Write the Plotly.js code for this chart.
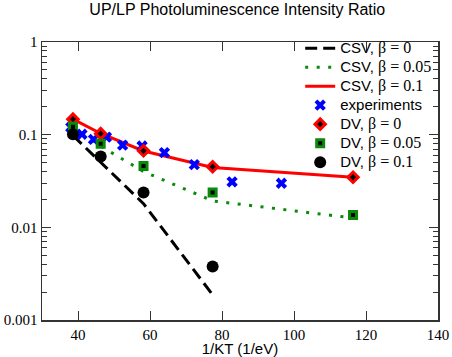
<!DOCTYPE html>
<html>
<head>
<meta charset="utf-8">
<script src="https://cdn.plot.ly/plotly-3.0.1.min.js"></script>
<style>
  html, body { margin: 0; padding: 0; background: #fff; }
  #chart { width: 452px; height: 357px; }
</style>
</head>
<body>
<div id="chart"></div>
<script>
// values (x = 1/KT in 1/eV, y = UP/LP ratio)
const dvX = [38.6, 46.3, 58.2, 77.4, 116.4];
const csvB0Y = [0.098, 0.05, 0.018, 0.00187];
const csvB005Y = [0.122, 0.075, 0.040, 0.0193, 0.0126];
const csvB01Y = [0.147, 0.103, 0.0667, 0.0443, 0.0347];

const expX = [38.0, 41.1, 44.3, 47.9, 52.4, 57.8, 64.0, 72.3, 82.8, 96.5];
const expY = [0.12, 0.101, 0.089, 0.094, 0.077, 0.0755, 0.064, 0.0475, 0.031, 0.0299];

const dvB0Y = [0.147, 0.1025, 0.067, 0.0451, 0.0347];
const dvB005Y = [0.122, 0.080, 0.046, 0.0237, 0.0136];
const dvB01Y = [0.101, 0.058, 0.0237, 0.00377];

const yTickVals = [0.001, 0.01, 0.1, 1];
const yTickText = ["0.001", "0.01", "0.1", "1"];

// minor ticks 2..9 in every decade
const yMinor = [];
yTickVals.slice(0, 3).forEach((d) => {
  for (let k = 2; k <= 9; k++) yMinor.push(d * k);
});

// legend row height follows legend.font.size, so the visible size is set per span
const sans = (t) => '<span style="font-size:15px">' + t + "</span>";
const greek = (v) => '<span style="font-family:Liberation Serif;font-size:16px">β = ' + v + "</span>";
const csvName = (v) => sans("CSV, ") + greek(v);
const dvName = (v) => sans("DV, ") + greek(v);

const data = [
  {
    x: dvX.slice(0, csvB0Y.length), y: csvB0Y, name: csvName("0"),
    type: "scatter", mode: "lines",
    line: { color: "black", width: 3, dash: "12px,6px" },
  },
  {
    x: dvX, y: csvB005Y, name: csvName("0.05"),
    type: "scatter", mode: "lines",
    line: { color: "#0a8a0a", width: 3, dash: "3px,8.5px" },
  },
  {
    x: dvX, y: csvB01Y, name: csvName("0.1"),
    type: "scatter", mode: "lines",
    line: { color: "red", width: 3 },
  },
  {
    x: expX, y: expY, name: sans("experiments"),
    type: "scatter", mode: "markers",
    marker: { symbol: "x", color: "blue", size: 10, line: { width: 0 } },
  },
  {
    x: dvX, y: dvB0Y, name: dvName("0"),
    type: "scatter", mode: "markers",
    marker: { symbol: "diamond", color: "black", size: 8, line: { color: "red", width: 3 } },
  },
  {
    x: dvX, y: dvB005Y, name: dvName("0.05"),
    type: "scatter", mode: "markers",
    marker: { symbol: "square", color: "black", size: 7, line: { color: "#0a8a0a", width: 3 } },
  },
  {
    x: dvX.slice(0, dvB01Y.length), y: dvB01Y, name: dvName("0.1"),
    type: "scatter", mode: "markers",
    marker: { symbol: "circle", color: "black", size: 12, line: { width: 0 } },
  },
];

const axisCommon = {
  showline: true,
  linecolor: "#333",
  linewidth: 1.5,
  mirror: "ticks",
  ticks: "inside",
  tickcolor: "#333",
  tickwidth: 1,
  ticklen: 9,
  showgrid: false,
  zeroline: false,
  tickfont: { family: "Liberation Serif", size: 15, color: "black" },
};

const layout = {
  width: 452,
  height: 357,
  margin: { l: 42, r: 14, t: 42, b: 37 },
  paper_bgcolor: "white",
  plot_bgcolor: "white",
  title: {
    text: "UP/LP Photoluminescence Intensity Ratio",
    font: { family: "Liberation Sans", size: 16, color: "black" },
    x: 0.525, xanchor: "center", y: 0.975, yanchor: "middle",
  },
  xaxis: Object.assign({}, axisCommon, {
    range: [30, 140],
    tick0: 40,
    dtick: 20,
    automargin: false,
    title: { text: "1/KT (1/eV)", font: { family: "Liberation Sans", size: 15, color: "black" }, standoff: 5 },
  }),
  yaxis: Object.assign({}, axisCommon, {
    type: "log",
    range: [-3, 0],
    tickmode: "array",
    tickvals: yTickVals,
    ticktext: yTickText,
    minor: { tickmode: "array", tickvals: yMinor, ticks: "inside", ticklen: 5, tickcolor: "#333", showgrid: false },
  }),
  showlegend: true,
  legend: {
    x: 0.652, xanchor: "left",
    y: 1.03, yanchor: "top",
    bgcolor: "rgba(0,0,0,0)",
    borderwidth: 0,
    font: { family: "Liberation Sans", size: 12, color: "black" },
    tracegroupgap: 0,
  },
};

Plotly.newPlot("chart", data, layout, { staticPlot: true });
</script>
</body>
</html>
